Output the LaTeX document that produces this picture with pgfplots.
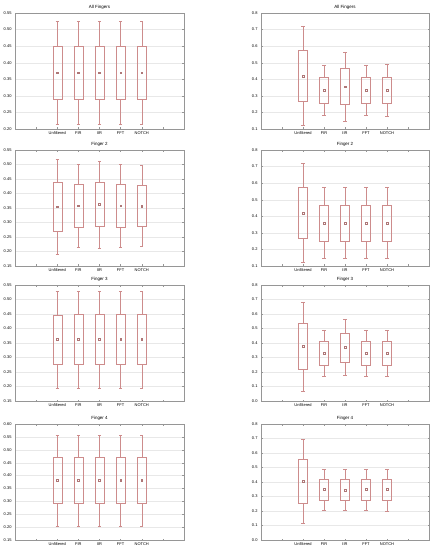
\documentclass[border=0pt]{standalone}
\usepackage{pgfplots}
\pgfplotsset{compat=1.18}
\usepgfplotslibrary{statistics}
\usepackage{fontspec}
\setmainfont{Liberation Sans}

\definecolor{boxc}{RGB}{205,140,140}
\definecolor{axc}{RGB}{150,150,150}

% one box: position, lower whisker, q1, mean, q3, upper whisker
\newcommand{\bx}[6]{%
  \addplot[boxc, solid, line width=0.35pt, boxplot prepared={draw position=#1,
    lower whisker=#2, lower quartile=#3, median=#4,
    upper quartile=#5, upper whisker=#6}] coordinates {};
  \addplot[only marks, mark=square, mark size=0.9bp, boxc!85!black, line width=0.3pt]
    coordinates {(#1,#4)};
}

\pgfplotsset{
  panel/.style={
    scale only axis, width=169bp, height=116bp,
    xmin=0, xmax=8, xtick={1,...,7},
    xticklabels={,Unfiltered,FIR,IIR,FFT,NOTCH,},
    ymajorgrids, grid style={gray!18, line width=0.3pt},
    axis line style={axc, line width=0.4pt},
    tick align=inside, major tick length=1.5bp,
    tick style={axc, line width=0.3pt},
    tick label style={font=\fontsize{4}{4.5}\selectfont},
    /pgf/number format/assume math mode=true,
    yticklabel style={/pgf/number format/.cd, fixed, fixed zerofill, precision=2},
    xticklabel style={yshift=0.5bp},
    title style={font=\fontsize{4.5}{5}\selectfont, yshift=-6bp},
    boxplot/draw direction=y,
    boxplot/box extend=0.42,
    boxplot/whisker extend=0.15,
    boxplot/every box/.style={draw=boxc},
    boxplot/every whisker/.style={draw=boxc},
    boxplot/every median/.style={draw=none},
    anchor=north west,
  },
  rpanel/.style={panel, width=168bp,
    yticklabel style={/pgf/number format/.cd, fixed, fixed zerofill, precision=1}},
}

\begin{document}
\begin{tikzpicture}
\useasboundingbox (0bp,0bp) rectangle (437bp,-550bp);

% ---- row 1
\begin{axis}[panel, at={(15bp,-13bp)}, title={All Fingers},
  ymin=0.20, ymax=0.55, ytick={0.20,0.25,...,0.56}]
\bx{2}{0.215}{0.290}{0.370}{0.450}{0.525}
\bx{3}{0.215}{0.290}{0.370}{0.449}{0.524}
\bx{4}{0.215}{0.290}{0.370}{0.450}{0.526}
\bx{5}{0.215}{0.290}{0.370}{0.449}{0.524}
\bx{6}{0.215}{0.290}{0.370}{0.449}{0.524}
\end{axis}
\begin{axis}[rpanel, at={(261bp,-13bp)}, title={All Fingers},
  ymin=0.1, ymax=0.8, ytick={0.1,0.2,...,0.81}]
\bx{2}{0.125}{0.270}{0.420}{0.575}{0.720}
\bx{3}{0.185}{0.255}{0.335}{0.410}{0.485}
\bx{4}{0.150}{0.250}{0.355}{0.465}{0.565}
\bx{5}{0.185}{0.255}{0.335}{0.410}{0.485}
\bx{6}{0.180}{0.255}{0.335}{0.410}{0.490}
\end{axis}

% ---- row 2
\begin{axis}[panel, at={(15bp,-150bp)}, title={Finger 2},
  ymin=0.15, ymax=0.55, ytick={0.15,0.20,...,0.56}]
\bx{2}{0.190}{0.270}{0.355}{0.440}{0.520}
\bx{3}{0.215}{0.285}{0.358}{0.432}{0.500}
\bx{4}{0.212}{0.287}{0.363}{0.440}{0.512}
\bx{5}{0.215}{0.285}{0.358}{0.432}{0.500}
\bx{6}{0.218}{0.287}{0.357}{0.430}{0.498}
\end{axis}
\begin{axis}[rpanel, at={(261bp,-150bp)}, title={Finger 2},
  ymin=0.1, ymax=0.8, ytick={0.1,0.2,...,0.81}]
\bx{2}{0.125}{0.270}{0.420}{0.575}{0.720}
\bx{3}{0.145}{0.250}{0.360}{0.470}{0.575}
\bx{4}{0.145}{0.250}{0.360}{0.470}{0.575}
\bx{5}{0.145}{0.250}{0.360}{0.470}{0.575}
\bx{6}{0.145}{0.250}{0.360}{0.470}{0.575}
\end{axis}

% ---- row 3
\begin{axis}[panel, at={(15bp,-285bp)}, title={Finger 3},
  ymin=0.15, ymax=0.55, ytick={0.15,0.20,...,0.56}]
\bx{2}{0.195}{0.277}{0.362}{0.447}{0.528}
\bx{3}{0.194}{0.277}{0.362}{0.448}{0.529}
\bx{4}{0.195}{0.277}{0.363}{0.448}{0.530}
\bx{5}{0.194}{0.277}{0.362}{0.448}{0.529}
\bx{6}{0.194}{0.277}{0.362}{0.448}{0.529}
\end{axis}
\begin{axis}[rpanel, at={(261bp,-285bp)}, title={Finger 3},
  ymin=0.0, ymax=0.8, ytick={0.0,0.1,...,0.81}]
\bx{2}{0.070}{0.220}{0.380}{0.535}{0.685}
\bx{3}{0.170}{0.250}{0.330}{0.410}{0.490}
\bx{4}{0.180}{0.270}{0.370}{0.465}{0.565}
\bx{5}{0.170}{0.250}{0.330}{0.410}{0.490}
\bx{6}{0.170}{0.250}{0.330}{0.410}{0.490}
\end{axis}

% ---- row 4
\begin{axis}[panel, at={(15bp,-424bp)}, title={Finger 4},
  ymin=0.15, ymax=0.60, ytick={0.15,0.20,...,0.61}]
\bx{2}{0.205}{0.293}{0.382}{0.472}{0.557}
\bx{3}{0.205}{0.293}{0.382}{0.473}{0.558}
\bx{4}{0.205}{0.293}{0.382}{0.473}{0.558}
\bx{5}{0.205}{0.293}{0.382}{0.473}{0.558}
\bx{6}{0.205}{0.293}{0.382}{0.473}{0.558}
\end{axis}
\begin{axis}[rpanel, at={(261bp,-424bp)}, title={Finger 4},
  ymin=0.0, ymax=0.8, ytick={0.0,0.1,...,0.81}]
\bx{2}{0.115}{0.255}{0.405}{0.555}{0.695}
\bx{3}{0.205}{0.275}{0.348}{0.420}{0.490}
\bx{4}{0.205}{0.275}{0.345}{0.420}{0.490}
\bx{5}{0.205}{0.277}{0.348}{0.420}{0.490}
\bx{6}{0.200}{0.277}{0.348}{0.420}{0.490}
\end{axis}
\end{tikzpicture}
\end{document}
